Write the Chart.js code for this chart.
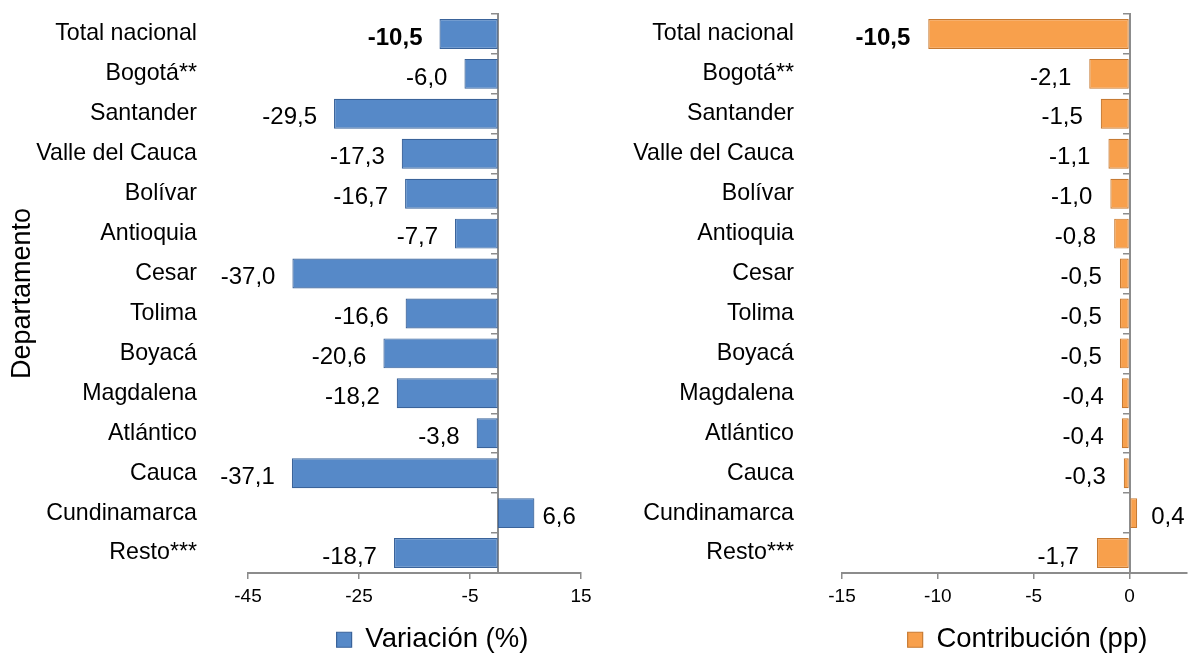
<!DOCTYPE html>
<html>
<head>
<meta charset="utf-8">
<script src="https://cdn.jsdelivr.net/npm/chart.js@4.4.1/dist/chart.umd.min.js"></script>
<style>
  html, body { margin: 0; padding: 0; background: #fff; }
  #wrap { position: relative; width: 1191px; height: 654px; }
  canvas { position: absolute; top: 0; }
  #left { left: 0; }
  #right { left: 600px; }
</style>
</head>
<body>
<div id="wrap">
  <canvas id="left" width="600" height="654"></canvas>
  <canvas id="right" width="591" height="654"></canvas>
</div>
<script>
const departamentos = ["Total nacional", "Bogotá**", "Santander", "Valle del Cauca", "Bolívar", "Antioquia", "Cesar", "Tolima", "Boyacá", "Magdalena", "Atlántico", "Cauca", "Cundinamarca", "Resto***"]
const variacion = [-10.5, -6.0, -29.5, -17.3, -16.7, -7.7, -37.0, -16.6, -20.6, -18.2, -3.8, -37.1, 6.6, -18.7]
const contribucion = [-10.5, -2.1, -1.5, -1.1, -1.0, -0.8, -0.5, -0.5, -0.5, -0.4, -0.4, -0.3, 0.4, -1.7]
const variacionTicks = [-45, -25, -5, 15]
const contribucionTicks = [-15, -10, -5, 0]

const SANS = "'Liberation Sans', Arial, sans-serif"
const GRAY = "#8c8c8c"

// value labels next to each bar, comma decimals, first one bold
const barLabels = {
  id: "barLabels",
  afterDatasetsDraw(chart, args, opts) {
    const ctx = chart.ctx
    const values = chart.data.datasets[0].data
    ctx.save()
    ctx.fillStyle = "#000"
    ctx.textBaseline = "middle"
    chart.getDatasetMeta(0).data.forEach((bar, i) => {
      const v = values[i]
      const txt = v.toFixed(1).replace(".", ",")
      ctx.font = (i === 0 ? "bold " : "") + opts.size + "px " + SANS
      if (v < 0) {
        ctx.textAlign = "right"
        ctx.fillText(txt, bar.x - opts.gapNeg, bar.y + opts.dy)
      } else {
        ctx.textAlign = "left"
        ctx.fillText(txt, bar.x + opts.gapPos, bar.y + opts.dy)
      }
    })
    ctx.restore()
  }
}

// nudge the legend off the chart centre, like the original
const legendShift = {
  id: "legendShift",
  afterLayout(chart, args, opts) {
    const l = chart.legend
    if (!l) return
    l.left += opts.dx
    l.right += opts.dx
    l.top += opts.dy
    l.bottom += opts.dy
  }
}

function makeChart(id, values, cfg) {
  return new Chart(document.getElementById(id), {
    type: "bar",
    data: {
      labels: departamentos,
      datasets: [{
        label: cfg.label,
        data: values,
        xAxisID: "x",
        yAxisID: "y",
        backgroundColor: cfg.fill,
        borderColor: cfg.edge,
        borderWidth: 1.2,
        borderSkipped: false,
        barPercentage: 0.75,
        categoryPercentage: 1
      }]
    },
    options: {
      indexAxis: "y",
      responsive: false,
      animation: false,
      layout: { padding: { top: 14, right: cfg.padRight, left: 0, bottom: 0 } },
      scales: {
        x: {
          min: cfg.min,
          max: cfg.max,
          afterBuildTicks: s => { s.ticks = cfg.ticks.map(v => ({ value: v })) },
          afterFit: s => { s.height = 43.5 },
          grid: { drawOnChartArea: false, tickLength: 6, color: GRAY, lineWidth: 1.5 },
          border: { color: GRAY, width: 2 },
          ticks: { font: { family: SANS, size: 19 }, color: "#000", padding: 6 }
        },
        y: {
          afterFit: s => { s.width = cfg.axisWidth },
          // hidden tick marks only push the labels away from the plot
          grid: { display: false, drawTicks: true, tickLength: cfg.labelPad },
          border: { display: false },
          ticks: { autoSkip: false, font: { family: SANS, size: 23.2 }, color: "#000", padding: 0 },
          title: cfg.title
            ? { display: true, text: cfg.title, font: { family: SANS, size: 27 }, color: "#000", padding: { top: 6, bottom: 0 } }
            : { display: false }
        },
        y2: {
          type: "category",
          position: { x: 0 },
          offset: true,
          grid: { offset: true, drawOnChartArea: false, tickLength: 6, color: GRAY, lineWidth: 1.5 },
          border: { color: GRAY, width: 2 },
          ticks: { display: false }
        }
      },
      plugins: {
        legend: {
          position: "bottom",
          labels: { font: { family: SANS, size: 27.5 }, color: "#000", boxWidth: 15, boxHeight: 15, padding: 0 }
        },
        tooltip: { enabled: false },
        barLabels: { size: 24, gapNeg: cfg.gapNeg, gapPos: cfg.gapPos, dy: 4 },
        legendShift: { dx: cfg.legendDx, dy: 9.5 }
      }
    },
    plugins: [barLabels, legendShift]
  })
}

makeChart("left", variacion, {
  label: "Variación (%)",
  fill: "#5689c8", edge: "#3a639a",
  min: -45, max: 15, ticks: variacionTicks,
  axisWidth: 248, padRight: 19, labelPad: 51,
  title: "Departamento",
  gapNeg: 17, gapPos: 8, legendDx: 142
})

makeChart("right", contribucion, {
  label: "Contribución (pp)",
  fill: "#f8a04c", edge: "#c77a32",
  min: -15, max: 3, ticks: contribucionTicks,
  axisWidth: 242, padRight: 4, labelPad: 48,
  title: null,
  gapNeg: 18, gapPos: 14, legendDx: 134
})
</script>
</body>
</html>
